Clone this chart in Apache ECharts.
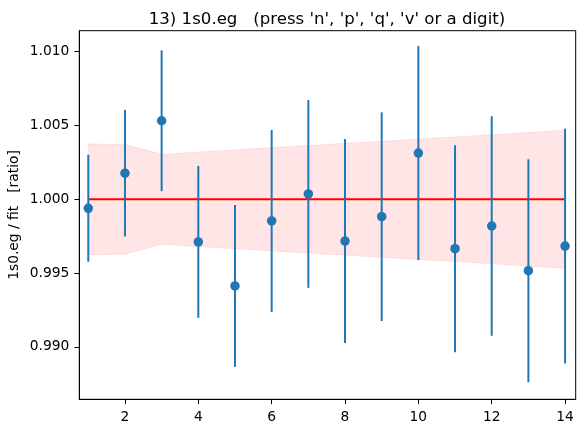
<!DOCTYPE html>
<html>
<head>
<meta charset="utf-8">
<script src="https://cdn.jsdelivr.net/npm/echarts@6/dist/echarts.min.js"></script>
<style>html,body{margin:0;padding:0;background:#fff}#c{width:588px;height:433px}</style>
</head>
<body>
<div id="c"></div>
<script>
const titleText = "13) 1s0.eg   (press 'n', 'p', 'q', 'v' or a digit)";
const yLabel = "1s0.eg / fit   [ratio]";
const xs = [1, 2, 3, 4, 5, 6, 7, 8, 9, 10, 11, 12, 13, 14];
const ratio = [0.99939, 1.00177, 1.00532, 0.99711, 0.99413, 0.99853, 1.00036, 0.99717, 0.99882, 1.00313, 0.99665, 0.99819, 0.99516, 0.99683];
const errs = [0.00362, 0.00429, 0.00477, 0.00514, 0.00548, 0.00616, 0.00636, 0.00691, 0.00707, 0.00725, 0.00701, 0.00744, 0.00755, 0.00795];
const bandHalf = [0.00375, 0.00372, 0.00305, 0.00320, 0.00335, 0.00350, 0.00364, 0.00379, 0.00393, 0.00408, 0.00422, 0.00437, 0.00452, 0.00468];
const refLine = [1, 1];
const refX = [1, 14];
const xTicks = [2, 4, 6, 8, 10, 12, 14];
const yTicks = [0.990, 0.995, 1.000, 1.005, 1.010];

const chart = echarts.init(document.getElementById('c'), null, {renderer: 'canvas'});
const FONT = 'DejaVu Sans';
const blue = '#1f77b4';

const bandData = xs.map((x, i) => [x, 1 - bandHalf[i], 1 + bandHalf[i]]);
const errData = xs.map((x, i) => [x, ratio[i] - errs[i], ratio[i] + errs[i]]);

chart.setOption({
  animation: false,
  backgroundColor: '#fff',
  title: {
    text: titleText, left: 322, top: 6, textAlign: 'center',
    textStyle: {fontFamily: FONT, fontSize: 16.6, fontWeight: 'normal', color: '#000'}
  },
  grid: {left: 79.3, right: 12.3, top: 30.7, bottom: 33.7, show: true, borderColor: '#000', borderWidth: 1,
    backgroundColor: 'transparent', containLabel: false, outerBoundsMode: 'none'},
  xAxis: {
    type: 'value', min: 0.755, max: 14.29,
    axisLine: {show: true, onZero: false, lineStyle: {color: '#000', width: 1}},
    axisTick: {show: true, length: 4.9, customValues: xTicks, lineStyle: {color: '#000', width: 1}},
    axisLabel: {customValues: xTicks, margin: 11, fontFamily: FONT, fontSize: 13.8, color: '#000'},
    splitLine: {show: false}
  },
  yAxis: {
    type: 'value', min: 0.98645, max: 1.01142,
    name: yLabel, nameLocation: 'middle', nameGap: 58, nameRotate: 90, nameMoveOverlap: false,
    nameTextStyle: {fontFamily: FONT, fontSize: 13.8, color: '#000'},
    axisLine: {show: true, onZero: false, lineStyle: {color: '#000', width: 1}},
    axisTick: {show: true, length: 4.9, customValues: yTicks, lineStyle: {color: '#000', width: 1}},
    axisLabel: {customValues: yTicks, margin: 10, fontFamily: FONT, fontSize: 13.8, color: '#000',
      formatter: v => v.toFixed(3)},
    splitLine: {show: false}
  },
  series: [
    {
      type: 'custom', z: 1, silent: true,
      data: bandData,
      renderItem: function (params, api) {
        if (params.dataIndex !== 0) return null;
        const up = bandData.map(d => api.coord([d[0], d[2]]));
        const lo = bandData.slice().reverse().map(d => api.coord([d[0], d[1]]));
        return {
          type: 'polygon',
          shape: {points: up.concat(lo)},
          style: {fill: 'rgba(255,0,0,0.1)', stroke: 'rgba(255,0,0,0.08)', lineWidth: 1}
        };
      }
    },
    {
      type: 'line', z: 2, silent: true, symbol: 'none',
      data: refX.map((x, i) => [x, refLine[i]]),
      lineStyle: {color: '#ff0000', width: 2}
    },
    {
      type: 'custom', z: 3, silent: true,
      data: errData,
      renderItem: function (params, api) {
        const a = api.coord([api.value(0), api.value(1)]);
        const b = api.coord([api.value(0), api.value(2)]);
        return {
          type: 'line',
          shape: {x1: a[0], y1: a[1], x2: b[0], y2: b[1]},
          style: {stroke: blue, lineWidth: 2}
        };
      }
    },
    {
      type: 'scatter', z: 4, silent: true,
      data: xs.map((x, i) => [x, ratio[i]]),
      symbol: 'circle', symbolSize: 9.5,
      itemStyle: {color: blue, opacity: 1}
    }
  ]
});
</script>
</body>
</html>
